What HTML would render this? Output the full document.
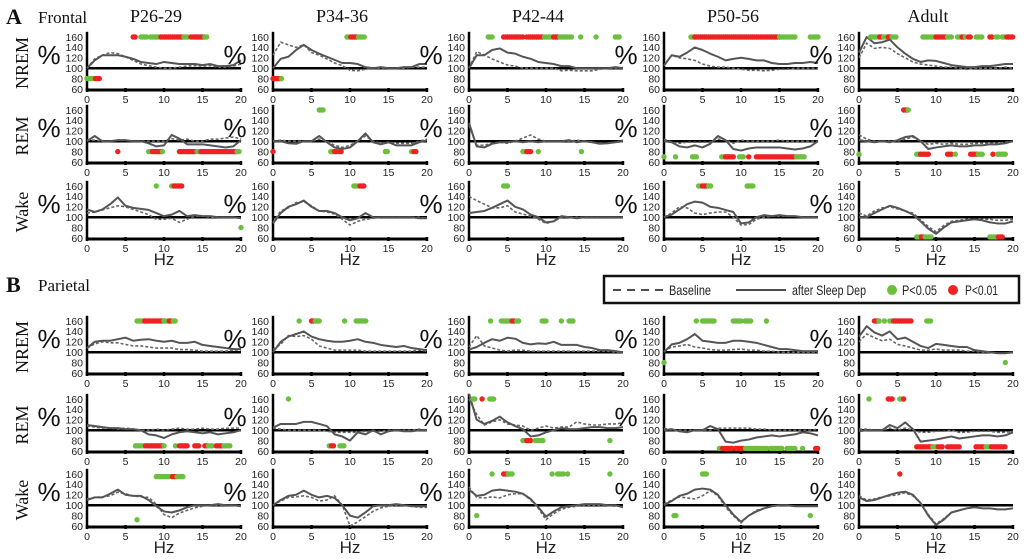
<!DOCTYPE html>
<html><head><meta charset="utf-8"><style>
html,body{margin:0;padding:0;background:#fff;}
svg{display:block;}
.t{font-family:"Liberation Sans",sans-serif;fill:#222;}
.s{font-family:"Liberation Serif",serif;fill:#111;}
</style></head><body>
<svg id="fig" width="1024" height="559" viewBox="0 0 1024 559" xmlns="http://www.w3.org/2000/svg">
<text class="s" x="6" y="24" style="font-size:22px;font-weight:bold">A</text>
<text class="s" x="38" y="23" style="font-size:17px">Frontal</text>
<text class="s" x="6" y="292" style="font-size:22px;font-weight:bold">B</text>
<text class="s" x="38" y="291" style="font-size:17px">Parietal</text>
<g>
<rect x="604" y="276" width="415" height="27" fill="#fff" stroke="#111" stroke-width="2.5"/>
<line x1="613" y1="290" x2="663" y2="290" stroke="#111" stroke-width="1.5" stroke-dasharray="8,6"/>
<text class="t" x="669" y="295" style="font-size:14px" textLength="42" lengthAdjust="spacingAndGlyphs">Baseline</text>
<line x1="736" y1="290" x2="786" y2="290" stroke="#111" stroke-width="1.5"/>
<text class="t" x="792" y="295" style="font-size:14px" textLength="74" lengthAdjust="spacingAndGlyphs">after Sleep Dep</text>
<circle cx="892" cy="290" r="5" fill="#6cbf3f"/>
<text class="t" x="902" y="295" style="font-size:14px" textLength="35" lengthAdjust="spacingAndGlyphs">P&lt;0.05</text>
<circle cx="953" cy="290" r="5" fill="#ee2222"/>
<text class="t" x="965" y="295" style="font-size:14px" textLength="33" lengthAdjust="spacingAndGlyphs">P&lt;0.01</text>
</g>
</svg>
<script>
const ages=["P26-29","P34-36","P42-44","P50-56","Adult"];
const states=["NREM","REM","Wake"];
const xTicks=[0,5,10,15,20];
const yTicks=[60,80,100,120,140,160];
const hz=[0,1,2,3,4,5,6,7,8,9,10,11,12,13,14,15,16,17,18,19,20];
const solidA=[
[[100,115,125,125,125,122,118,112,110,108,112,110,108,108,108,106,108,104,104,106,115],
 [100,118,122,135,145,135,128,122,116,110,110,108,102,100,102,100,100,102,102,108,108],
 [100,125,125,135,138,130,128,122,118,112,110,108,104,104,100,100,100,100,100,102,100],
 [105,125,122,130,140,135,128,122,115,118,120,118,115,115,110,108,108,110,110,112,110],
 [130,160,148,150,155,140,128,118,112,115,114,110,106,104,102,102,104,104,106,108,108]],
[[100,110,100,100,102,102,100,100,96,90,92,112,105,94,94,94,92,90,88,90,102],
 [100,100,96,95,100,100,110,98,88,85,88,100,115,98,94,98,92,92,92,98,102],
 [135,90,88,95,98,98,100,98,100,98,100,100,100,102,98,100,98,95,96,98,100],
 [100,98,90,88,92,88,95,110,102,85,82,86,88,88,88,88,86,84,86,90,100],
 [102,100,98,100,98,102,108,110,100,85,88,90,92,90,90,92,92,94,94,96,100]],
[[115,110,115,125,138,122,118,116,114,108,102,105,112,102,104,102,102,100,100,100,98],
 [88,108,120,125,132,120,112,112,108,100,94,98,108,100,100,100,100,100,100,98,98],
 [108,110,112,118,125,132,120,115,105,100,90,92,102,100,98,100,100,100,100,100,100],
 [100,105,115,125,130,128,120,118,114,110,88,90,100,104,102,104,102,102,100,100,100],
 [100,100,108,115,122,118,112,105,92,78,68,80,90,92,94,96,94,90,88,88,92]]];
const dashA=[
[[100,118,125,130,128,122,115,108,105,102,100,100,102,104,105,104,105,102,102,104,108],
 [125,150,145,140,145,130,125,118,110,105,96,95,98,100,100,100,100,100,102,102,102],
 [100,132,125,118,112,106,104,100,100,100,100,100,95,96,95,95,95,98,100,100,100],
 [105,125,120,118,115,108,104,102,102,100,98,96,96,95,96,98,98,100,100,100,100],
 [120,148,138,140,138,128,120,112,108,106,104,102,102,100,98,100,100,100,100,102,100]],
[[102,102,100,100,102,102,100,100,100,100,100,105,102,104,100,100,104,104,106,108,104],
 [100,102,100,100,100,100,104,100,92,88,92,100,110,100,96,98,96,96,96,100,104],
 [130,92,92,96,98,96,100,106,112,104,100,100,100,100,102,100,98,95,96,98,102],
 [104,98,96,98,98,98,98,104,102,96,102,100,100,100,100,102,100,100,100,100,100],
 [112,104,100,100,100,100,104,108,100,94,96,94,96,94,94,96,96,96,96,98,100]],
[[108,110,114,118,122,120,115,110,105,96,96,98,90,96,102,102,100,100,100,100,98],
 [90,112,118,128,130,122,112,110,106,96,85,92,96,98,100,100,100,100,100,100,98],
 [140,132,125,118,118,122,110,106,102,96,88,92,100,100,100,100,100,100,100,100,100],
 [100,108,120,118,108,105,108,110,110,100,85,86,96,100,102,102,102,102,100,100,100],
 [108,102,112,118,120,116,112,108,95,82,72,84,92,94,96,96,96,96,94,94,96]]];
const solidB=[
[[108,120,122,122,125,128,122,124,125,122,120,122,118,118,120,114,112,110,108,106,106],
 [100,120,130,135,140,130,125,122,120,120,122,125,120,118,114,112,110,112,108,106,104],
 [105,110,118,125,122,128,126,118,115,117,116,120,114,114,114,110,108,104,104,102,100],
 [100,115,118,125,135,122,120,118,118,122,122,120,118,114,110,106,106,104,102,102,102],
 [130,150,138,132,140,125,128,120,112,108,116,114,112,110,110,104,102,100,98,98,100]],
[[110,108,106,104,104,102,102,100,92,90,85,92,96,98,96,94,96,92,94,96,100],
 [105,112,112,112,116,116,112,108,92,88,80,96,92,100,92,98,100,98,98,100,100],
 [170,120,112,118,126,115,108,102,88,90,96,100,104,102,102,104,106,106,104,104,106],
 [100,102,98,96,100,100,108,102,78,76,80,82,86,88,90,88,90,92,96,94,90],
 [98,100,100,100,110,104,115,102,78,80,82,85,88,84,86,88,90,90,88,90,96]],
[[110,115,115,122,130,120,118,118,110,98,88,86,90,96,100,100,100,102,100,100,98],
 [100,110,118,120,128,120,115,118,114,100,80,76,86,98,100,100,102,100,98,98,98],
 [130,118,120,128,130,128,126,122,112,96,78,88,96,98,100,102,102,102,100,100,96],
 [100,108,118,122,130,132,130,120,100,82,68,80,88,94,98,100,100,98,98,98,98],
 [115,108,110,115,120,124,126,120,104,80,62,72,86,90,94,96,94,94,92,92,94]]];
const dashB=[
[[108,116,120,118,118,115,112,112,110,108,108,108,105,105,104,102,102,102,102,104,104],
 [105,115,132,130,132,125,112,108,104,104,104,104,102,102,102,102,102,102,102,104,102],
 [110,132,112,108,104,102,104,104,102,102,102,102,102,102,102,102,102,102,102,100,100],
 [102,110,112,115,110,108,105,104,104,105,106,104,104,102,102,100,100,100,100,100,100],
 [120,135,128,122,125,115,112,108,104,104,106,104,104,104,102,102,100,100,98,98,100]],
[[108,106,104,104,102,104,102,100,100,102,100,102,104,102,102,104,102,102,104,104,104],
 [104,102,100,100,100,100,100,98,96,96,96,96,98,98,98,100,100,100,100,102,100],
 [160,130,110,116,120,112,110,108,100,104,108,104,106,106,116,112,110,110,112,112,114],
 [104,100,100,100,100,100,100,104,104,104,104,104,102,102,100,100,100,100,100,100,102],
 [102,102,100,100,104,100,104,100,96,96,98,98,100,96,96,98,98,98,96,96,98]],
[[112,115,116,118,125,122,118,116,115,102,82,76,85,90,95,98,100,100,100,100,100],
 [100,108,115,116,118,115,108,110,118,100,60,68,78,88,95,98,100,100,98,96,96],
 [135,115,114,116,114,120,122,122,110,94,72,84,92,96,98,100,100,100,100,98,98],
 [102,110,116,114,112,118,128,118,96,80,66,80,90,94,98,100,100,98,98,98,98],
 [118,110,112,116,118,120,124,118,104,82,64,74,86,90,94,96,94,94,92,92,94]]];
const sigA=[
[[[6,6.3,160,"r"],[7,7.8,160,"g"],[8.2,9.5,160,"g"],[9.6,12.5,160,"r"],[12.6,13.3,160,"g"],[13.5,14,160,"r"],[14.2,15.2,160,"r"],[15.3,15.6,160,"g"],[0,1,80,"g"],[1.1,1.6,80,"r"]],
 [[9.6,10,160,"g"],[10.1,11,160,"r"],[11.1,12,160,"g"],[0,1,80,"r"],[1.1,1.3,80,"g"]],
 [[2.5,3,160,"g"],[4.5,7,160,"r"],[7.5,9.5,160,"r"],[9.8,11,160,"g"],[11,11.6,160,"r"],[11.8,13.5,160,"g"],[14.5,14.6,160,"g"],[16.5,16.6,160,"g"],[19,19.5,160,"g"]],
 [[3.5,4,160,"g"],[4,15,160,"r"],[15,17,160,"g"],[19,20,160,"g"]],
 [[1.5,2.5,160,"g"],[2.7,3,160,"r"],[3.2,3.7,160,"g"],[3.8,4.2,160,"r"],[4.3,5,160,"g"],[8.3,10,160,"g"],[10,10.8,160,"r"],[11,11.3,160,"r"],[11.5,12.2,160,"g"],[12.8,13.3,160,"g"],[13.4,13.7,160,"r"],[13.8,14,160,"g"],[14.2,14.5,160,"r"],[15.2,16,160,"g"],[17,17.4,160,"r"],[17.8,18.2,160,"g"],[18.6,19,160,"g"],[19.2,20,160,"r"]]],
[[[4,4.1,80,"r"],[8,8.4,80,"g"],[8.5,9.8,80,"r"],[9.8,10,80,"g"],[12,14,80,"r"],[14.3,14.6,80,"g"],[14.8,19.5,80,"r"],[19.5,19.8,80,"g"]],
 [[6,6.6,160,"g"],[0,0.1,80,"r"],[7.5,7.8,80,"g"],[8,8.4,80,"r"],[8.6,9,80,"r"],[14.6,15,80,"g"],[18,18.2,80,"g"],[18.3,18.7,80,"r"]],
 [[7,7.4,80,"g"],[7.5,8,80,"r"],[9,9.1,80,"g"],[14.6,14.7,80,"g"]],
 [[0,0.1,70,"g"],[1.5,1.6,70,"g"],[3.7,4.2,70,"g"],[7.5,8,70,"g"],[8,9,70,"r"],[9.8,10.5,70,"g"],[11,11.2,70,"r"],[12,17,70,"r"],[17.2,18.3,70,"g"]],
 [[5.8,6.3,160,"r"],[6.4,6.5,160,"g"],[0,0.1,75,"g"],[7.5,8,75,"g"],[8,9.2,75,"r"],[11.5,12,75,"r"],[12.5,12.6,75,"g"],[14.5,15.3,75,"r"],[15.5,16,75,"g"],[17.4,17.6,75,"r"],[18,19,75,"g"]]],
[[[9,9.1,160,"g"],[11,11.2,160,"g"],[11.3,12.3,160,"r"],[20,20.1,80,"g"]],
 [[10.5,11.2,160,"g"],[11.3,11.8,160,"r"]],
 [[4.5,5,160,"g"]],
 [[4.5,4.9,160,"g"],[5,5.6,160,"r"],[5.8,6.2,160,"g"],[10.8,11.6,160,"g"]],
 [[7.5,8,62,"g"],[8.1,8.4,62,"r"],[8.6,9.5,62,"g"],[17,18,62,"g"],[18.1,18.8,62,"r"]]]];
const sigB=[
[[[6.5,7.5,160,"g"],[7.5,10,160,"r"],[10,10.6,160,"g"],[10.7,11,160,"r"],[11.2,11.6,160,"g"]],
 [[3.4,3.6,160,"g"],[5,5.4,160,"r"],[5.5,6,160,"g"],[9.3,9.4,160,"g"],[10.8,12.2,160,"g"]],
 [[2.8,2.9,160,"g"],[4.2,5.5,160,"g"],[5.6,6,160,"r"],[6.2,6.6,160,"g"],[9.5,10.2,160,"g"],[12,12.1,160,"g"],[13,13.5,160,"g"]],
 [[4.2,4.3,160,"g"],[5,6.5,160,"g"],[9,10.2,160,"g"],[10.5,11.3,160,"g"],[13.3,13.4,160,"g"],[0,0.1,80,"g"]],
 [[2,2.5,160,"r"],[2.6,2.8,160,"g"],[3.3,3.5,160,"g"],[4,4.4,160,"g"],[4.5,6.8,160,"r"],[8.8,9.3,160,"g"],[19,19.1,80,"g"]]],
[[[6.3,7.3,70,"g"],[7.6,10,70,"r"],[10,10.2,70,"g"],[11.5,11.6,70,"g"],[12,13,70,"r"],[14,14.5,70,"r"],[15.3,15.6,70,"r"],[15.8,16.3,70,"g"],[16.8,17.6,70,"r"],[17.8,18.7,70,"g"]],
 [[2,2.1,160,"g"],[7.3,7.5,70,"g"],[7.6,8,70,"r"],[8.7,9.3,70,"g"]],
 [[0.5,0.8,160,"g"],[1.7,1.9,160,"r"],[2.7,3.3,160,"g"],[7,7.4,80,"g"],[7.5,8,80,"r"],[8.6,9.6,80,"g"],[18.3,18.4,80,"g"]],
 [[7.2,7.5,65,"g"],[7.6,9,65,"r"],[9.3,10.5,65,"r"],[10.6,13.5,65,"g"],[13.8,15.5,65,"g"],[16,17,65,"g"],[18,18.1,65,"g"],[19.7,20,65,"r"]],
 [[1.3,1.4,160,"g"],[3.8,4.3,160,"r"],[5.3,5.6,160,"g"],[5.8,6,160,"r"],[7.5,9.5,68,"r"],[9.6,10.2,68,"g"],[10.3,11,68,"r"],[11.5,13,68,"r"],[15.2,16.3,68,"r"],[16.5,17,68,"g"],[17.2,19,68,"r"]]],
[[[9,11,155,"g"],[11.1,11.6,155,"r"],[11.7,12.6,155,"g"],[6.5,6.6,72,"g"]],
 [],
 [[3,3.1,160,"g"],[4.5,5,160,"r"],[5.1,5.6,160,"g"],[10.8,11,160,"g"],[11.5,12.4,160,"g"],[12.8,12.9,160,"g"],[18.3,18.4,160,"g"],[1,1.1,80,"g"]],
 [[5,5.6,160,"g"],[1.3,1.7,80,"g"],[19,19.2,80,"g"]],
 [[5.3,5.4,160,"r"]]]];

const NS="http://www.w3.org/2000/svg";
const svg=document.getElementById("fig");
const colX=[87,273,469,664,859];
const W=154, H=52;
const rowY60=[[89,162,238],[373,451,526]];
function mk(tag,attrs,parent){const e=document.createElementNS(NS,tag);for(const k in attrs)e.setAttribute(k,attrs[k]);(parent||svg).appendChild(e);return e;}
ages.forEach((a,i)=>{const t=mk("text",{x:colX[i]+W/2-8,y:22,"text-anchor":"middle",style:"font-size:18px",class:"s"});t.textContent=a;
  
  });
const regions=[["frontal",solidA,dashA,sigA],["parietal",solidB,dashB,sigB]];
regions.forEach((R,ri)=>{
  states.forEach((st,si)=>{
    const y60=rowY60[ri][si];
    const rl=mk("text",{x:0,y:0,"text-anchor":"middle",style:"font-size:18px",class:"s",transform:`translate(28,${y60-26}) rotate(-90)`});
    rl.textContent=st;
    
    
    ages.forEach((ag,ai)=>{
      const x0=colX[ai];
      const sx=v=>x0+v/20*W;
      const sy=v=>y60-(v-60)/100*H;
      const g=mk("g",{});
      
      
      const pc=mk("text",{x:x0-38,y:sy(108),"text-anchor":"middle",style:"font-size:26px;fill:#111",class:"t"},g);
      pc.textContent="%";
      
      
      yTicks.forEach(v=>{const t=mk("text",{x:x0-4,y:sy(v)+3.8,"text-anchor":"end",style:"font-size:10.5px",class:"t"},g);t.textContent=v;
        
        });
      xTicks.forEach(v=>{const t=mk("text",{x:sx(v),y:y60+14,"text-anchor":"middle",style:"font-size:10.5px",class:"t"},g);t.textContent=v;
        
        
        const tk=mk("line",{x1:sx(v),y1:y60-1,x2:sx(v),y2:y60+3,stroke:"#000","stroke-width":"2.5"},g);
        
        });
      if(si===2){const hzl=mk("text",{x:x0+W/2,y:y60+27,"text-anchor":"middle",style:"font-size:17px",class:"t"},g);hzl.textContent="Hz";
        
        }
      const ref=mk("line",{x1:x0,y1:sy(100),x2:x0+W,y2:sy(100),stroke:"#000","stroke-width":"2.5"},g);
      
      
      const ya=mk("line",{x1:x0,y1:sy(170),x2:x0,y2:y60+2.5,stroke:"#000","stroke-width":"2.5"},g);
      
      
      const xa=mk("line",{x1:x0,y1:y60+1,x2:x0+W+1,y2:y60+1,stroke:"#000","stroke-width":"3"},g);
      
      
      const dv=R[2][si][ai], sv=R[1][si][ai];
      const dp=mk("polyline",{points:dv.map((v,i)=>sx(hz[i])+","+sy(v)).join(" "),fill:"none",stroke:"#666","stroke-width":"1.6","stroke-dasharray":"3,2"},g);
      
      
      const sp=mk("polyline",{points:sv.map((v,i)=>sx(hz[i])+","+sy(v)).join(" "),fill:"none",stroke:"#555","stroke-width":"2","stroke-linejoin":"round"},g);
      
      
      R[3][si][ai].forEach(s=>{
        for(let h=s[0];h<=s[1]+0.001;h+=0.25){
          const c=mk("circle",{cx:sx(h),cy:sy(s[2]),r:"2.7",fill:s[3]==="r"?"#ee2222":"#6cbf3f"},g);
          
          
        }
      });
    });
  });
});
</script>
</body></html>
